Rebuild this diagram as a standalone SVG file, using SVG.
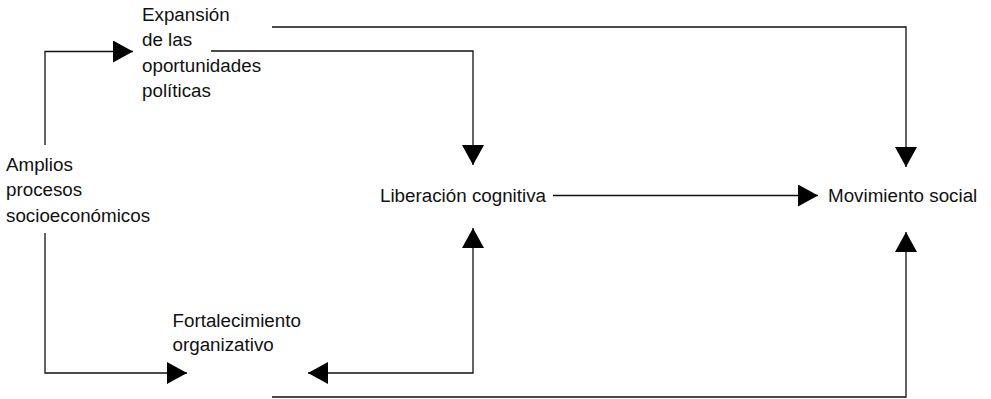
<svg xmlns="http://www.w3.org/2000/svg" width="991" height="399" viewBox="0 0 991 399">
<style>
text { font-family: "Liberation Sans", Arial, sans-serif; font-size: 18.8px; fill: #111; }
.c { fill: none; stroke: #111; stroke-width: 1.3; }
</style>
<defs>
<marker id="ah" markerUnits="userSpaceOnUse" markerWidth="20" markerHeight="22" refX="20" refY="11" orient="auto-start-reverse" viewBox="0 0 20 22">
<path d="M0,0 L20,11 L0,22 z" fill="#000"/>
</marker>
</defs>
<rect width="991" height="399" fill="#fff"/>
<g id="connectors">
<path class="c" d="M45,145 V51.5 H133" marker-end="url(#ah)"/>
<path class="c" d="M211,51 H473 V165" marker-end="url(#ah)"/>
<path class="c" d="M272,27 H906 V167" marker-end="url(#ah)"/>
<path class="c" d="M553,195.5 H818" marker-end="url(#ah)"/>
<path class="c" d="M45,233 V373 H187" marker-end="url(#ah)"/>
<path class="c" d="M473,228 V373 H308" marker-start="url(#ah)" marker-end="url(#ah)"/>
<path class="c" d="M272,397 H906 V232" marker-end="url(#ah)"/>
</g>
<g id="amplios">
<text x="6" y="170.5">Amplios</text>
<text x="6" y="196">procesos</text>
<text x="6" y="221.5">socioeconómicos</text>
</g>
<g id="expansion">
<text x="142" y="20.7">Expansión</text>
<text x="142" y="46">de las</text>
<text x="142" y="71.5">oportunidades</text>
<text x="142" y="96.8">políticas</text>
</g>
<g id="liberacion">
<text x="380" y="201.7">Liberación cognitiva</text>
</g>
<g id="movimiento">
<text x="828" y="201.7">Movimiento social</text>
</g>
<g id="fortalecimiento">
<text x="172.5" y="326.7">Fortalecimiento</text>
<text x="172.5" y="351">organizativo</text>
</g>
</svg>
